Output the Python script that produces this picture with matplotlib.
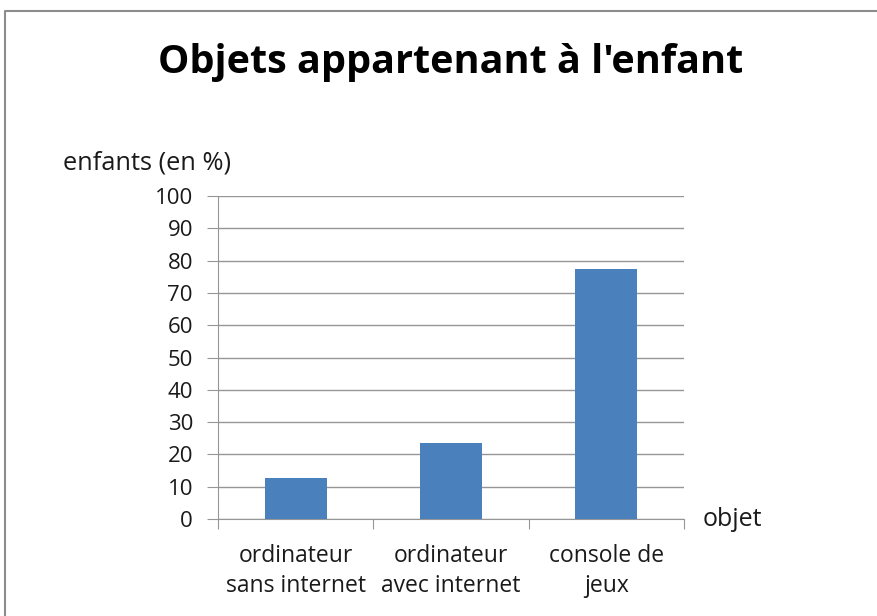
import matplotlib.pyplot as plt
from matplotlib.lines import Line2D

categories = ["ordinateur\nsans internet", "ordinateur\navec internet", "console de\njeux"]
values = [12.8, 23.4, 77.5]
yticks = [0, 10, 20, 30, 40, 50, 60, 70, 80, 90, 100]

plt.rcParams['font.family'] = ['Open Sans', 'DejaVu Sans']

fig = plt.figure(figsize=(8.77, 6.16), dpi=100)
ax = fig.add_axes([218 / 877, 1 - 519 / 616, (684 - 218) / 877, (519 - 196) / 616])

x = range(len(categories))
ax.bar(x, values, width=0.40, color="#4A81BD", zorder=3)

ax.set_xlim(-0.5, len(categories) - 0.5)
ax.set_ylim(0, 100)
ax.set_yticks(yticks)
ax.set_yticklabels([str(v) for v in yticks], fontsize=16, color="#1a1a1a")
ax.yaxis.grid(True, color="#969696", linewidth=1, zorder=0)

# ticks between the categories
ax.set_xticks([i - 0.5 for i in range(len(categories) + 1)])
ax.set_xticklabels([])
ax.set_xticks(list(x), minor=True)
ax.set_xticklabels(categories, minor=True, fontsize=16.5, color="#1a1a1a", linespacing=1.35)
ax.tick_params(axis='x', which='major', length=7, color="#969696", direction='out')
ax.tick_params(axis='x', which='minor', length=0, pad=18)
ax.tick_params(axis='y', length=8, color="#969696", pad=10)

for s in ["top", "right"]:
    ax.spines[s].set_visible(False)
for s in ["left", "bottom"]:
    ax.spines[s].set_color("#969696")

fig.text(451 / 877, 1 - 63 / 616, "Objets appartenant à l'enfant", fontsize=28.5,
         fontweight='bold', ha='center', va='center')
fig.text(63 / 877, 1 - 163 / 616, "enfants (en %)", fontsize=18.3, ha='left', va='center',
         color="#1a1a1a")
fig.text(703 / 877, 1 - 519 / 616, "objet", fontsize=18, ha='left', va='center',
         color="#1a1a1a")

# cadre du graphique (haut et gauche seulement, le reste est coupé)
x0, y0 = 5 / 877, 1 - 11 / 616
fig.lines.append(Line2D([x0, x0, 1.0], [0.0, y0, y0], transform=fig.transFigure,
                        color="#8c8c8c", linewidth=1.5))

fig.savefig("out.png", dpi=100)
